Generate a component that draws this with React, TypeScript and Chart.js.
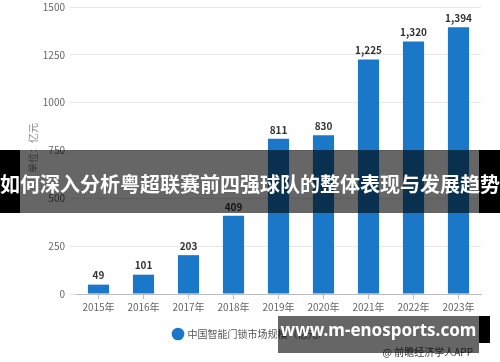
import React, { useEffect, useRef } from "react";
import { Chart, registerables } from "chart.js";

Chart.register(...registerables);

const categories = ["2015年", "2016年", "2017年", "2018年", "2019年", "2020年", "2021年", "2022年", "2023年"];
const values = [49, 101, 203, 409, 811, 830, 1225, 1320, 1394];
const seriesName = "中国智能门锁市场规模（亿元）";
const yTitle = "单位：亿元";
const sourceText = "@ 前瞻经济学人APP";
const bannerText = "如何深入分析粤超联赛前四强球队的整体表现与发展趋势";
const siteText = "www.m-enosports.com";

const FONT = "'Noto Sans CJK SC', 'Noto Sans', sans-serif";
const BLUE = "#1b78c8";

const labelPlugin = {
  id: "extras",
  afterDatasetsDraw(chart: any) {
    const ctx = chart.ctx;
    const meta = chart.getDatasetMeta(0);
    ctx.save();
    ctx.font = `bold 10px ${FONT}`;
    ctx.fillStyle = "#333";
    ctx.textAlign = "center";
    ctx.textBaseline = "bottom";
    meta.data.forEach((bar: any, i: number) => {
      ctx.fillText(values[i].toLocaleString("en-US"), bar.x, bar.y - 4);
    });
    ctx.restore();
  },
  afterDraw(chart: any) {
    const ctx = chart.ctx;
    ctx.save();
    ctx.font = `10px ${FONT}`;
    ctx.fillStyle = "#888";
    ctx.textAlign = "center";
    ctx.textBaseline = "middle";
    ctx.translate(33, 148);
    ctx.rotate(-Math.PI / 2);
    ctx.fillText(yTitle, 0, 0);
    ctx.restore();
    ctx.save();
    ctx.font = `10px ${FONT}`;
    ctx.fillStyle = "#444";
    ctx.textAlign = "right";
    ctx.textBaseline = "middle";
    ctx.fillText(sourceText, 473, 352);
    ctx.restore();
  },
};

export default function App() {
  const ref = useRef<HTMLCanvasElement | null>(null);
  useEffect(() => {
    if (!ref.current) return;
    const chart = new Chart(ref.current, {
      type: "bar",
      data: {
        labels: categories,
        datasets: [
          {
            label: seriesName,
            data: values,
            backgroundColor: BLUE,
            barPercentage: 0.47,
            categoryPercentage: 1,
          },
        ],
      },
      options: {
        animation: false,
        responsive: false,
        maintainAspectRatio: false,
        layout: { padding: { top: 0, right: 19, bottom: 13, left: 20 } },
        plugins: {
          tooltip: { enabled: false },
          legend: {
            position: "bottom",
            labels: {
              usePointStyle: true,
              pointStyle: "circle",
              boxWidth: 9,
              boxHeight: 9,
              padding: 14,
              color: "#555",
              font: { size: 10, family: FONT },
            },
          },
        },
        scales: {
          x: {
            grid: { display: true, drawOnChartArea: false, drawTicks: true, tickLength: 5, offset: false, color: "#bbb" },
            border: { display: true, color: "#bbb" },
            ticks: { color: "#666", font: { size: 10, family: FONT }, padding: 2, maxRotation: 0 },
          },
          y: {
            min: 0,
            max: 1500,
            afterFit: (s: any) => {
              s.width = 56;
              s.paddingTop = 7;
              s.paddingBottom = 0;
            },
            grid: { color: "#e6e6e6", tickLength: 6 },
            border: { display: false },
            ticks: {
              stepSize: 250,
              color: "#666",
              font: { size: 10, family: FONT },
              padding: 5,
              callback: (v: any) => String(v),
            },
          },
        },
      },
      plugins: [labelPlugin],
    });
    return () => chart.destroy();
  }, []);

  return (
    <div style={{ position: "absolute", left: 0, top: 0, width: 500, height: 362, background: "#fff", overflow: "hidden" }}>
      <canvas ref={ref} width={500} height={362} style={{ display: "block" }} />
      <div style={{ position: "absolute", left: 0, top: 150, width: 20, height: 63, background: "#000" }} />
      <div style={{ position: "absolute", left: 479, top: 150, width: 21, height: 63, background: "#000" }} />
      <div style={{ position: "absolute", left: 20, top: 150, width: 459, height: 63, background: "rgba(0,0,0,0.6)" }} />
      <div
        style={{
          position: "absolute",
          left: 0,
          top: 150,
          width: 500,
          height: 63,
          display: "flex",
          alignItems: "center",
          justifyContent: "center",
          color: "#fff",
          fontFamily: FONT,
          fontWeight: "bold",
          fontSize: 20,
          whiteSpace: "nowrap",
          paddingTop: 4,
          boxSizing: "border-box",
        }}
      >
        {bannerText}
      </div>
      <div style={{ position: "absolute", left: 479, top: 316, width: 11, height: 27, background: "#000" }} />
      <div
        style={{
          position: "absolute",
          left: 278,
          top: 316,
          width: 201,
          height: 37,
          background: "rgba(0,0,0,0.6)",
          display: "flex",
          alignItems: "center",
          justifyContent: "center",
          color: "#fff",
          fontFamily: "'Noto Sans', sans-serif",
          fontWeight: "bold",
          fontSize: 17,
          whiteSpace: "nowrap",
          paddingBottom: 10,
          boxSizing: "border-box",
        }}
      >
        {siteText}
      </div>
    </div>
  );
}
